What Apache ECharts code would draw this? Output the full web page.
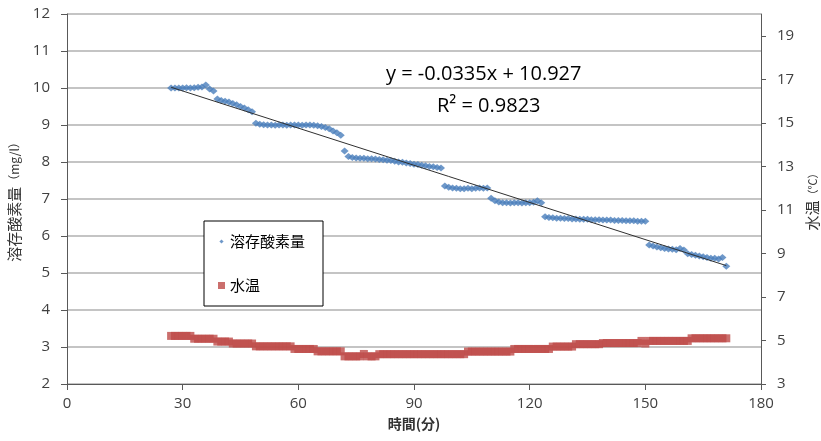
<!DOCTYPE html>
<html>
<head>
<meta charset="utf-8">
<script src="https://cdn.jsdelivr.net/npm/echarts@6/dist/echarts.min.js"></script>
<style>html,body{margin:0;padding:0;background:#fff;}#c{width:821px;height:441px;}</style>
</head>
<body>
<div id="c"></div>
<script>
// time (minutes)
const times = [
27,28,29,30,31,32,33,34,35,36,
37,38,39,40,41,42,43,44,45,46,
47,48,49,50,51,52,53,54,55,56,
57,58,59,60,61,62,63,64,65,66,
67,68,69,70,71,72,73,74,75,76,
77,78,79,80,81,82,83,84,85,86,
87,88,89,90,91,92,93,94,95,96,
97,98,99,100,101,102,103,104,105,106,
107,108,109,110,111,112,113,114,115,116,
117,118,119,120,121,122,123,124,125,126,
127,128,129,130,131,132,133,134,135,136,
137,138,139,140,141,142,143,144,145,146,
147,148,149,150,151,152,153,154,155,156,
157,158,159,160,161,162,163,164,165,166,
167,168,169,170,171];
// dissolved oxygen (mg/l)
const doValues = [
10.00,10.00,10.00,10.00,10.01,10.00,10.01,10.02,10.03,10.08,
9.97,9.92,9.70,9.66,9.64,9.62,9.58,9.55,9.50,9.46,
9.41,9.36,9.05,9.02,9.01,9.00,9.00,8.99,9.00,9.00,
8.99,9.00,9.00,9.00,8.99,9.00,9.00,8.99,8.98,8.96,
8.93,8.90,8.84,8.79,8.72,8.30,8.15,8.12,8.11,8.10,
8.10,8.09,8.09,8.08,8.07,8.06,8.05,8.04,8.02,8.00,
7.99,7.97,7.96,7.94,7.93,7.91,7.90,7.88,7.87,7.85,
7.84,7.35,7.32,7.30,7.29,7.28,7.28,7.29,7.28,7.29,
7.30,7.29,7.30,7.02,6.95,6.92,6.90,6.90,6.89,6.90,
6.90,6.89,6.90,6.90,6.91,6.95,6.90,6.52,6.50,6.49,
6.48,6.48,6.47,6.47,6.46,6.46,6.45,6.45,6.45,6.44,
6.44,6.44,6.43,6.43,6.43,6.42,6.42,6.42,6.41,6.41,
6.41,6.40,6.40,6.40,5.76,5.73,5.70,5.68,5.66,5.65,
5.64,5.63,5.66,5.62,5.52,5.50,5.48,5.46,5.44,5.42,
5.40,5.40,5.38,5.42,5.18];
// water temperature (°C)
const tempValues = [
5.21,5.21,5.21,5.21,5.21,5.21,5.08,5.08,5.08,5.08,
5.08,5.08,4.95,4.95,4.95,4.95,4.86,4.86,4.86,4.86,
4.86,4.86,4.73,4.73,4.73,4.73,4.73,4.73,4.73,4.73,
4.73,4.73,4.61,4.61,4.61,4.61,4.61,4.61,4.50,4.50,
4.50,4.50,4.50,4.50,4.50,4.27,4.27,4.27,4.27,4.27,
4.38,4.27,4.27,4.27,4.37,4.37,4.37,4.37,4.37,4.37,
4.37,4.37,4.37,4.37,4.37,4.37,4.37,4.37,4.37,4.37,
4.37,4.37,4.37,4.37,4.37,4.37,4.37,4.49,4.49,4.49,
4.49,4.49,4.49,4.49,4.49,4.49,4.49,4.49,4.49,4.61,
4.61,4.61,4.61,4.61,4.61,4.61,4.61,4.61,4.61,4.72,
4.72,4.72,4.72,4.72,4.72,4.83,4.83,4.83,4.83,4.83,
4.83,4.83,4.88,4.88,4.88,4.88,4.88,4.88,4.88,4.88,
4.88,4.88,4.98,4.86,4.98,4.98,4.98,4.98,4.98,4.98,
4.98,4.98,4.98,4.98,4.98,5.10,5.10,5.10,5.10,5.10,
5.10,5.10,5.10,5.10,5.10];
// linear trendline endpoints (y = -0.0335x + 10.927)
const trendX = [27, 171];
const trendY = [10.02, 5.20];
const xTicks = [0, 30, 60, 90, 120, 150, 180];
const leftTicks = [2,3,4,5,6,7,8,9,10,11,12];
const rightTicks = [3,5,7,9,11,13,15,17,19];
const seriesNames = ['溶存酸素量', '水温'];
const equationText = 'y = -0.0335x + 10.927';
const r2Text = 'R² = 0.9823';

const doData = times.map((t, i) => [t, doValues[i]]);
const tempData = times.map((t, i) => [t, tempValues[i]]);
const trendData = trendX.map((x, i) => [x, trendY[i]]);

const tickFont = { fontFamily: 'Open Sans', fontSize: 15, color: '#404040' };
const axisLineStyle = { color: '#595959', width: 1 };

const chart = echarts.init(document.getElementById('c'), null, { renderer: 'canvas' });
chart.setOption({
  animation: false,
  backgroundColor: '#ffffff',
  grid: { left: 67, right: 60, top: 14, bottom: 57, containLabel: false, outerBoundsMode: 'none' },
  xAxis: {
    type: 'value', min: xTicks[0], max: xTicks[xTicks.length - 1], interval: 30,
    name: '時間(分)', nameLocation: 'middle', nameGap: 33,
    nameTextStyle: { fontFamily: 'Noto Sans CJK JP', fontSize: 14, fontWeight: 'bold', color: '#333' },
    axisLine: { show: true, lineStyle: axisLineStyle },
    axisTick: { show: true, length: 6, lineStyle: axisLineStyle },
    axisLabel: Object.assign({ margin: 12 }, tickFont),
    splitLine: { show: false }
  },
  yAxis: [
    {
      type: 'value', min: leftTicks[0], max: leftTicks[leftTicks.length - 1], interval: 1,
      name: '{a|溶存酸素量}{b|（mg/l）}', nameLocation: 'middle', nameGap: 41, nameRotate: 90,
      nameTextStyle: {
        color: '#333',
        rich: {
          a: { fontFamily: 'Noto Sans CJK JP', fontSize: 15, color: '#333' },
          b: { fontFamily: 'Noto Sans CJK JP', fontSize: 12, color: '#333' }
        }
      },
      axisLine: { show: true, lineStyle: axisLineStyle },
      axisTick: { show: true, length: 6, lineStyle: axisLineStyle },
      axisLabel: Object.assign({ margin: 17 }, tickFont),
      splitLine: { show: true, lineStyle: { color: '#b0b0b0', width: 1.5 } }
    },
    {
      type: 'value', min: 3, max: 20, position: 'right',
      name: '{a|水温}{b|（℃）}', nameLocation: 'middle', nameGap: 38, nameRotate: 90,
      nameTextStyle: {
        color: '#333',
        rich: {
          a: { fontFamily: 'Noto Sans CJK JP', fontSize: 15, color: '#333' },
          b: { fontFamily: 'Noto Sans CJK JP', fontSize: 11, color: '#333' }
        }
      },
      axisLine: { show: true, onZero: false, lineStyle: axisLineStyle },
      axisTick: { show: true, length: 5, customValues: rightTicks, lineStyle: axisLineStyle },
      axisLabel: Object.assign({ margin: 16, customValues: rightTicks }, tickFont),
      splitLine: { show: false }
    }
  ],
  legend: {
    orient: 'vertical', left: 204, top: 221,
    padding: [13, 18, 13, 14], itemGap: 29, itemWidth: 7, itemHeight: 7,
    borderColor: '#000', borderWidth: 1, backgroundColor: '#fff',
    textStyle: { fontFamily: 'Noto Sans CJK JP', fontSize: 15, color: '#000' },
    data: [
      { name: seriesNames[0], icon: 'path://M0,0M8,8M4,1.6L6.4,4L4,6.4L1.6,4Z' },
      { name: seriesNames[1], icon: 'rect' }
    ],
    selectedMode: false
  },
  graphic: [
    { type: 'text', left: 386, top: 64, z: 100,
      style: { text: equationText, fontFamily: 'Open Sans', fontSize: 20, fill: '#000' } },
    { type: 'text', left: 437, top: 96, z: 100,
      style: { text: r2Text, fontFamily: 'Open Sans', fontSize: 20, fill: '#000' } }
  ],
  series: [
    {
      name: seriesNames[1], type: 'scatter', yAxisIndex: 1, data: tempData,
      symbol: 'rect', symbolSize: 8,
      itemStyle: { color: '#be4b48' }, z: 2
    },
    {
      name: seriesNames[0], type: 'scatter', yAxisIndex: 0, data: doData,
      symbol: 'diamond', symbolSize: [8, 7],
      itemStyle: { color: '#4a7ebb' }, z: 3
    },
    {
      name: 'trend', type: 'line', yAxisIndex: 0, data: trendData,
      showSymbol: false, symbol: 'none',
      lineStyle: { color: '#303030', width: 1 }, z: 4, silent: true
    }
  ]
});
</script>
</body>
</html>
